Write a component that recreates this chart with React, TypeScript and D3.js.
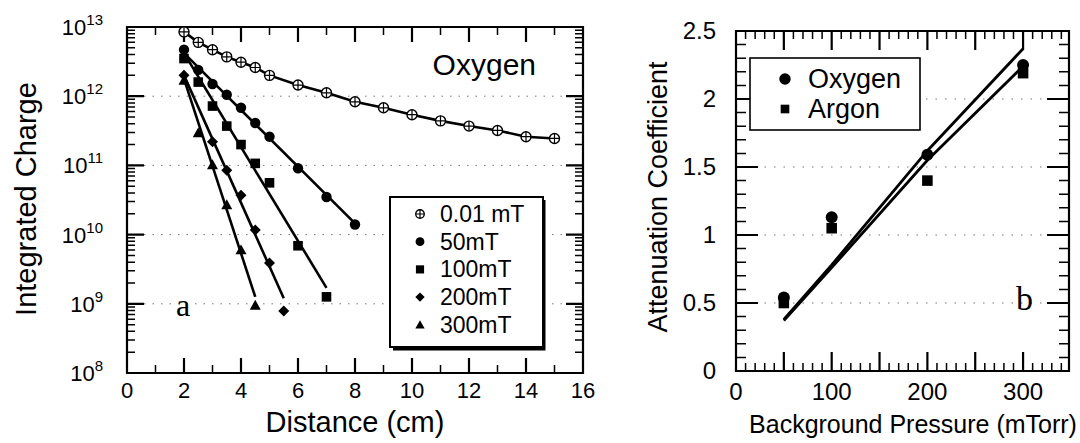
import React from "react";
import * as d3 from "d3";

// ---------- Panel a: Integrated charge vs distance (Oxygen) ----------
const dist001 = [2, 2.5, 3, 3.5, 4, 4.5, 5, 6, 7, 8, 9, 10, 11, 12, 13, 14, 15];
const charge001 = [8.5e12, 6.0e12, 4.7e12, 3.7e12, 3.1e12, 2.6e12, 2.0e12, 1.45e12, 1.12e12, 8.3e11, 6.8e11, 5.4e11, 4.4e11, 3.7e11, 3.2e11, 2.6e11, 2.45e11];

const dist50 = [2, 2.5, 3, 3.5, 4, 4.5, 5, 6, 7, 8];
const charge50 = [4.7e12, 2.4e12, 1.5e12, 1.05e12, 6.8e11, 4.1e11, 2.6e11, 9.1e10, 3.5e10, 1.4e10];
const fit50: [number, number][] = [[2, 4.2e12], [8, 1.45e10]];

const dist100 = [2, 2.5, 3, 3.5, 4, 4.5, 5, 6, 7];
const charge100 = [3.5e12, 1.6e12, 7.2e11, 3.7e11, 2.0e11, 1.07e11, 5.6e10, 6.9e9, 1.26e9];
const fit100: [number, number][] = [[2, 4.2e12], [7, 1.7e9]];

const dist200 = [2, 3, 3.5, 4, 4.5, 5, 5.5];
const charge200 = [2.0e12, 2.2e11, 8.5e10, 3.7e10, 1.17e10, 3.9e9, 7.9e8];
const fit200: [number, number][] = [[2, 2.0e12], [5.5, 1.2e9]];

const dist300 = [2, 2.5, 3, 3.5, 4, 4.5];
const charge300 = [1.7e12, 2.95e11, 1.02e11, 2.7e10, 6.0e9, 9.5e8];
const fit300: [number, number][] = [[2, 1.78e12], [4.5, 1.26e9]];

const legendA = ["0.01 mT", "50mT", "100mT", "200mT", "300mT"];
const markerA = ["cross", "circle", "square", "diamond", "triangle"];
const xTicksA = [0, 2, 4, 6, 8, 10, 12, 14, 16];
const xMinorTicksA = [1, 3, 5, 7, 9, 11, 13, 15];
const yDecadesA = [8, 9, 10, 11, 12, 13];

// ---------- Panel b: Attenuation coefficient vs pressure ----------
const pressure = [50, 100, 200, 300];
const attOxygen = [0.54, 1.13, 1.59, 2.25];
const attArgon = [0.5, 1.05, 1.4, 2.19];
const fitOxygenX = [50, 100, 200, 300];
const fitOxygenY = [0.38, 0.78, 1.62, 2.37];
const fitArgonX = [50, 100, 200, 300];
const fitArgonY = [0.37, 0.76, 1.55, 2.24];
const xTicksB = [0, 100, 200, 300];
const yTicksB = [0, 0.5, 1, 1.5, 2, 2.5];
const legendB = ["Oxygen", "Argon"];

const FONT = "'Liberation Sans', Arial, Helvetica, sans-serif";

function Marker({ type, x, y, s = 1 }: { type: string; x: number; y: number; s?: number }) {
  if (type === "cross") {
    const r = 5 * s;
    return (
      <g>
        <circle cx={x} cy={y} r={r} fill="#fff" stroke="#000" strokeWidth={1.4} />
        <path d={`M${x - r},${y}H${x + r}M${x},${y - r}V${y + r}`} stroke="#000" strokeWidth={1.2} />
      </g>
    );
  }
  if (type === "circle") return <circle cx={x} cy={y} r={5.2 * s} fill="#000" />;
  if (type === "square") {
    const h = 4.8 * s;
    return <rect x={x - h} y={y - h} width={2 * h} height={2 * h} fill="#000" />;
  }
  if (type === "diamond") {
    const h = 5.5 * s;
    return <path d={`M${x},${y - h}L${x + h},${y}L${x},${y + h}L${x - h},${y}Z`} fill="#000" />;
  }
  const h = 5.5 * s;
  return <path d={`M${x},${y - h}L${x + h},${y + h * 0.8}L${x - h},${y + h * 0.8}Z`} fill="#000" />;
}

const xA = d3.scaleLinear().domain([0, 16]).range([127, 583]);
const yA = d3.scaleLog().domain([1e8, 1e13]).range([373, 27]);
const xB = d3.scaleLinear().domain([0, 348]).range([736, 1069]);
const yB = d3.scaleLinear().domain([0, 2.5]).range([371, 31]);

export default function App() {
  const lineA = d3
    .line<[number, number]>()
    .x((d) => xA(d[0]))
    .y((d) => yA(d[1]));
  const lineB = d3
    .line<[number, number]>()
    .x((d) => xB(d[0]))
    .y((d) => yB(d[1]));

  const seriesA = [
    { xs: dist001, ys: charge001, fit: dist001.map((d, i) => [d, charge001[i]] as [number, number]) },
    { xs: dist50, ys: charge50, fit: fit50 },
    { xs: dist100, ys: charge100, fit: fit100 },
    { xs: dist200, ys: charge200, fit: fit200 },
    { xs: dist300, ys: charge300, fit: fit300 },
  ];

  const ax0 = xA(0), ax1 = xA(16);
  const ayT = yA(1e13), ayB = yA(1e8);
  const bx0 = xB(0), bx1 = xB(348);
  const byT = yB(2.5), byB = yB(0);

  const yMinorA: number[] = [];
  for (let e = 8; e < 13; e++) for (let m = 2; m <= 9; m++) yMinorA.push(m * Math.pow(10, e));
  const xMinorB = d3.range(0, 341, 10).filter((v) => v % 50 !== 0);
  const xMajorB = d3.range(0, 341, 50);
  const yMinorB = d3.range(0, 26).filter((k) => k % 5 !== 0).map((k) => k / 10);

  // tick path strings built from the scales
  const vTicks = (xs: number[], sx: (v: number) => number, yEdge: number, len: number) =>
    xs.map((v) => `M${sx(v)},${yEdge}v${len}`).join("");
  const hTicks = (ys: number[], sy: (v: number) => number, xEdge: number, len: number) =>
    ys.map((v) => `M${xEdge},${sy(v)}h${len}`).join("");

  const decA = yDecadesA.map((e) => Math.pow(10, e));
  const tickMajor =
    vTicks(xTicksA, xA, ayB, -15) + vTicks(xTicksA, xA, ayT, 15) +
    hTicks(decA, yA, ax0, 17) + hTicks(decA, yA, ax1, -17) +
    vTicks(xMajorB, xB, byB, -19) + vTicks(xMajorB, xB, byT, 19) +
    hTicks(yTicksB, yB, bx0, 22) + hTicks(yTicksB, yB, bx1, -22);
  const tickMinor =
    vTicks(xMinorTicksA, xA, ayB, -8) + vTicks(xMinorTicksA, xA, ayT, 8) +
    hTicks(yMinorA, yA, ax0, 8) + hTicks(yMinorA, yA, ax1, -8) +
    vTicks(xMinorB, xB, byB, -8) + vTicks(xMinorB, xB, byT, 8) +
    hTicks(yMinorB, yB, bx0, 10) + hTicks(yMinorB, yB, bx1, -10);

  return (
    <svg
      width={1080}
      height={443}
      style={{ position: "absolute", left: 0, top: 0, background: "#fff" }}
      fontFamily={FONT}
    >
      <rect width={1080} height={443} fill="#fff" />

      {/* ================= Panel a ================= */}
      {[1e9, 1e10, 1e11, 1e12].map((v) => (
        <line key={"ga" + v} x1={ax0} x2={ax1} y1={yA(v)} y2={yA(v)} stroke="#777" strokeWidth={1} strokeDasharray="1.5,7" />
      ))}

      <path d={`M${ax0},${ayT}H${ax1}V${ayB}H${ax0}Z` + tickMajor.split("M").filter((s) => s && parseFloat(s) < 600).map((s) => "M" + s).join("")} fill="none" stroke="#000" strokeWidth={2.2} />
      <path d={tickMinor.split("M").filter((s) => s && parseFloat(s) < 600).map((s) => "M" + s).join("")} fill="none" stroke="#000" strokeWidth={1.5} />

      {seriesA.map((s, i) => (
        <path key={"fa" + i} d={lineA(s.fit) || ""} fill="none" stroke="#000" strokeWidth={2.6} />
      ))}
      {seriesA.map((s, i) =>
        s.xs.map((x, j) => <Marker key={"ma" + i + "-" + j} type={markerA[i]} x={xA(x)} y={yA(s.ys[j])} />)
      )}

      {xTicksA.map((v) => (
        <text key={"xla" + v} x={xA(v)} y={398} fontSize={22} textAnchor="middle">
          {v}
        </text>
      ))}
      {yDecadesA.map((e) => (
        <text key={"yla" + e} x={103} y={yA(Math.pow(10, e)) + 8} fontSize={22} textAnchor="end">
          10
          <tspan dy={-10} fontSize={15}>
            {e}
          </tspan>
        </text>
      ))}

      <text x={355} y={432} fontSize={29} textAnchor="middle">
        Distance (cm)
      </text>
      <text transform="translate(36,199) rotate(-90)" fontSize={29} textAnchor="middle">
        Integrated Charge
      </text>

      <text x={536} y={75} fontSize={30} textAnchor="end">
        Oxygen
      </text>
      <text x={176} y={316} fontSize={32} fontFamily="'Liberation Serif', 'Times New Roman', serif">
        a
      </text>

      <rect x={390} y={197} width={153} height={150} fill="#fff" stroke="#000" strokeWidth={2} />
      <path d="M544,200V349H393" fill="none" stroke="#000" strokeWidth={3} />
      {legendA.map((t, i) => (
        <g key={"lga" + i}>
          <Marker type={markerA[i]} x={420} y={214 + i * 27.7} s={0.85} />
          <text x={440} y={222 + i * 27.7} fontSize={23}>
            {t}
          </text>
        </g>
      ))}

      {/* ================= Panel b ================= */}
      {[0.5, 1, 1.5, 2].map((v) => (
        <line key={"gb" + v} x1={bx0} x2={bx1} y1={yB(v)} y2={yB(v)} stroke="#777" strokeWidth={1} strokeDasharray="1.5,8" />
      ))}

      <path d={`M${bx0},${byT}H${bx1}V${byB}H${bx0}Z` + tickMajor.split("M").filter((s) => s && parseFloat(s) >= 600).map((s) => "M" + s).join("")} fill="none" stroke="#000" strokeWidth={2.2} />
      <path d={tickMinor.split("M").filter((s) => s && parseFloat(s) >= 600).map((s) => "M" + s).join("")} fill="none" stroke="#000" strokeWidth={1.5} />

      <path d={lineB(fitOxygenX.map((x, i) => [x, fitOxygenY[i]] as [number, number])) || ""} fill="none" stroke="#000" strokeWidth={2.8} />
      <path d={lineB(fitArgonX.map((x, i) => [x, fitArgonY[i]] as [number, number])) || ""} fill="none" stroke="#000" strokeWidth={2.8} />

      {pressure.map((p, i) => (
        <g key={"pb" + i}>
          <Marker type="square" x={xB(p)} y={yB(attArgon[i])} s={1.1} />
          <Marker type="circle" x={xB(p)} y={yB(attOxygen[i])} s={1.15} />
        </g>
      ))}

      {xTicksB.map((v) => (
        <text key={"xlb" + v} x={xB(v)} y={400} fontSize={24} textAnchor="middle">
          {v}
        </text>
      ))}
      {yTicksB.map((v) => (
        <text key={"ylb" + v} x={716} y={yB(v) + 8} fontSize={24} textAnchor="end">
          {v}
        </text>
      ))}

      <text x={913} y={433} fontSize={25} textAnchor="middle">
        Background Pressure (mTorr)
      </text>
      <text transform="translate(667,197) rotate(-90)" fontSize={27} textAnchor="middle">
        Attenuation Coefficient
      </text>

      <text x={1016} y={310} fontSize={34} fontFamily="'Liberation Serif', 'Times New Roman', serif">
        b
      </text>

      <rect x={750} y={58} width={170} height={72} fill="#fff" stroke="#000" strokeWidth={1.6} />
      {legendB.map((t, i) => (
        <g key={"lgb" + i}>
          <Marker type={i === 0 ? "circle" : "square"} x={785} y={79 + i * 30} s={i === 0 ? 1.1 : 0.9} />
          <text x={808} y={88 + i * 30} fontSize={27}>
            {t}
          </text>
        </g>
      ))}
    </svg>
  );
}
